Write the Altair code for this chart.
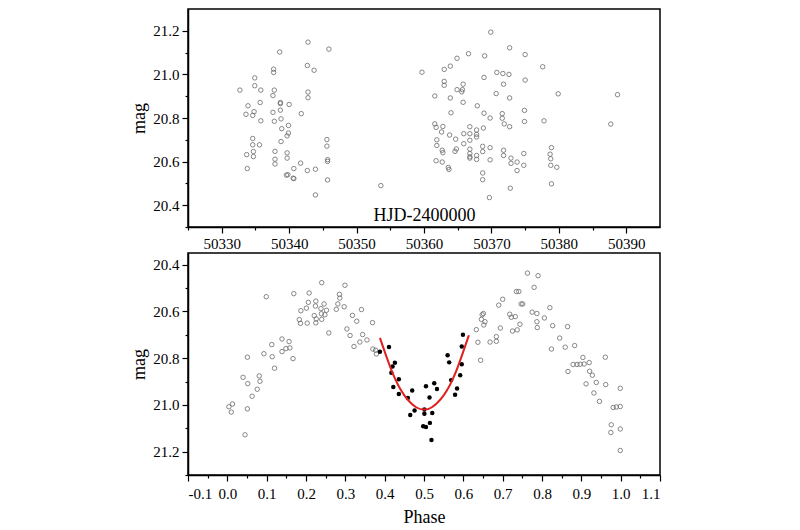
import altair as alt
import pandas as pd

# ---------------- top panel: light curve vs HJD ----------------
top_hjd = [
    50342.8, 50345.9, 50338.6, 50342.7, 50343.7, 50337.7, 50337.7, 50334.9, 50334.9, 50332.7,
    50335.8, 50337.8, 50337.6, 50342.8, 50342.8, 50338.7, 50338.7, 50340.0, 50335.7, 50333.9,
    50333.6, 50334.8, 50334.6, 50337.6, 50338.7, 50341.8, 50335.8, 50337.8, 50338.8, 50339.9,
    50338.9, 50339.9, 50339.7, 50338.8, 50334.6, 50334.6, 50335.6, 50333.7, 50334.7, 50334.7,
    50337.9, 50337.9, 50337.9, 50339.7, 50339.7, 50333.8, 50341.7, 50340.7, 50339.6, 50339.8,
    50340.6, 50340.7, 50342.7, 50343.9, 50345.6, 50345.6, 50345.7, 50345.7, 50345.7, 50343.9,
    50353.6,
    50369.9, 50372.7, 50375.0, 50369.0, 50366.6, 50364.9, 50363.9, 50363.0, 50359.7, 50377.6,
    50368.9, 50370.8, 50371.7, 50372.6, 50375.0, 50363.0, 50363.0, 50365.8, 50364.9, 50365.7,
    50365.6, 50371.8, 50370.7, 50361.6, 50363.9, 50372.7, 50379.9, 50365.8, 50367.9, 50364.0,
    50368.9, 50369.8, 50371.6, 50371.6, 50371.9, 50372.7, 50374.9, 50374.9, 50377.8, 50361.6,
    50361.8, 50362.8, 50362.6, 50363.8, 50364.7, 50361.9, 50361.9, 50365.9, 50365.9, 50366.8,
    50366.8, 50366.8, 50367.8, 50367.8, 50367.8, 50368.8, 50368.7, 50368.7, 50369.8, 50369.8,
    50366.8, 50366.8, 50366.8, 50366.8, 50367.8, 50367.8, 50364.8, 50364.6, 50362.7, 50362.8,
    50361.8, 50362.7, 50363.6, 50363.7, 50371.8, 50371.8, 50372.9, 50372.9, 50373.8, 50373.8,
    50374.8, 50374.8, 50368.7, 50368.7, 50372.8, 50369.7, 50378.9, 50378.7, 50378.8, 50378.8,
    50379.7, 50378.9, 50388.7, 50387.7,
]
top_mag = [
    21.148, 21.116, 21.103, 21.041, 21.019, 21.024, 21.009, 20.984, 20.948, 20.928,
    20.928, 20.928, 20.903, 20.919, 20.893, 20.871, 20.866, 20.862, 20.871, 20.856,
    20.817, 20.829, 20.812, 20.826, 20.836, 20.820, 20.787, 20.785, 20.796, 20.766,
    20.751, 20.731, 20.718, 20.692, 20.706, 20.677, 20.677, 20.632, 20.646, 20.623,
    20.647, 20.611, 20.589, 20.640, 20.616, 20.568, 20.593, 20.568, 20.538, 20.540,
    20.524, 20.522, 20.559, 20.565, 20.701, 20.671, 20.609, 20.601, 20.516, 20.447,
    20.490,
    21.194, 21.122, 21.091, 21.085, 21.095, 21.074, 21.038, 21.023, 21.010, 21.035,
    20.986, 21.009, 21.004, 21.000, 20.974, 20.968, 20.950, 20.955, 20.930, 20.930,
    20.920, 20.955, 20.912, 20.901, 20.892, 20.892, 20.911, 20.872, 20.856, 20.824,
    20.822, 20.800, 20.820, 20.799, 20.773, 20.760, 20.835, 20.784, 20.787, 20.773,
    20.757, 20.761, 20.736, 20.722, 20.703, 20.700, 20.674, 20.728, 20.682, 20.760,
    20.728, 20.698, 20.745, 20.725, 20.713, 20.754, 20.670, 20.646, 20.664, 20.608,
    20.657, 20.637, 20.622, 20.616, 20.628, 20.610, 20.658, 20.647, 20.652, 20.641,
    20.604, 20.598, 20.573, 20.564, 20.652, 20.628, 20.616, 20.592, 20.598, 20.559,
    20.637, 20.583, 20.548, 20.517, 20.478, 20.435, 20.664, 20.634, 20.613, 20.583,
    20.574, 20.498, 20.907, 20.772,
]

# ---------------- bottom panel: phased light curve ----------------
phase_open = [
    0.240, 0.299, 0.099, 0.169, 0.208, 0.285, 0.286, 0.206, 0.225, 0.224,
    0.246, 0.201, 0.187, 0.238, 0.239, 0.252, 0.248, 0.221, 0.226, 0.240,
    0.281, 0.277, 0.297, 0.183, 0.186, 0.203, 0.225, 0.258, 0.318, 0.329,
    0.341, 0.304, 0.312, 0.322, 0.344, 0.337, 0.355, 0.369, 0.370, 0.377,
    0.379, 0.139, 0.157, 0.113, 0.139, 0.149, 0.159, 0.093, 0.114, 0.167,
    0.051, 0.120, 0.040, 0.081, 0.083, 0.052, 0.076, 0.063, 0.013, 0.004,
    0.010, 0.051, 0.045,
    0.763, 0.790, 0.780, 0.735, 0.741, 0.700, 0.690, 0.747, 0.751, 0.820,
    0.651, 0.648, 0.646, 0.655, 0.652, 0.718, 0.722, 0.732, 0.775, 0.787,
    0.806, 0.787, 0.788, 0.744, 0.725, 0.737, 0.694, 0.827, 0.865, 0.633,
    0.637, 0.668, 0.684, 0.684, 0.845, 0.824, 0.859, 0.883, 0.644, 0.904,
    0.961, 0.879, 0.889, 0.897, 0.907, 0.920, 0.866, 0.921, 0.928, 0.912,
    0.938, 0.962, 0.999, 0.932, 0.946, 0.981, 0.989, 0.999, 0.976, 0.975,
    0.999, 0.999,
]
mag_open = [
    20.477, 20.488, 20.537, 20.524, 20.521, 20.527, 20.543, 20.561, 20.556, 20.577,
    20.568, 20.586, 20.597, 20.588, 20.610, 20.595, 20.614, 20.618, 20.632, 20.634,
    20.568, 20.591, 20.580, 20.635, 20.651, 20.650, 20.649, 20.692, 20.617, 20.642,
    20.592, 20.675, 20.703, 20.750, 20.699, 20.731, 20.722, 20.648, 20.761, 20.766,
    20.782, 20.718, 20.729, 20.742, 20.772, 20.759, 20.756, 20.781, 20.794, 20.802,
    20.796, 20.843, 20.882, 20.876, 20.899, 20.909, 20.933, 20.963, 20.996, 21.008,
    21.031, 21.017, 21.128,
    20.436, 20.447, 20.497, 20.515, 20.515, 20.548, 20.573, 20.568, 20.568, 20.584,
    20.609, 20.614, 20.634, 20.644, 20.658, 20.612, 20.625, 20.622, 20.603, 20.609,
    20.628, 20.644, 20.669, 20.655, 20.684, 20.679, 20.671, 20.661, 20.665, 20.678,
    20.732, 20.731, 20.708, 20.728, 20.714, 20.761, 20.753, 20.746, 20.809, 20.797,
    20.796, 20.827, 20.827, 20.826, 20.825, 20.819, 20.857, 20.856, 20.873, 20.910,
    20.904, 20.913, 20.929, 20.949, 20.985, 21.011, 21.009, 21.007, 21.085, 21.118,
    21.103, 21.195,
]
phase_fill = [
    0.388, 0.411, 0.426, 0.420, 0.417, 0.436, 0.422, 0.436, 0.470, 0.459,
    0.476, 0.465, 0.501, 0.501, 0.505, 0.514, 0.526, 0.533, 0.521, 0.515,
    0.498, 0.505, 0.519, 0.560, 0.564, 0.569, 0.584, 0.579, 0.592, 0.596,
    0.596, 0.599,
]
mag_fill = [
    20.773, 20.752, 20.820, 20.836, 20.862, 20.890, 20.923, 20.953, 20.938, 20.970,
    21.024, 21.043, 21.020, 21.038, 20.920, 20.968, 20.907, 20.932, 21.035, 21.077,
    21.091, 21.095, 21.150, 20.788, 20.818, 20.894, 20.930, 20.957, 20.873, 20.826,
    20.750, 20.700,
]
fit_phase = [0.388, 0.42, 0.45, 0.48, 0.50, 0.52, 0.55, 0.58, 0.614]
fit_mag = [20.713, 20.863, 20.959, 21.010, 21.020, 21.010, 20.959, 20.863, 20.702]

# tick positions
top_x_ticks = [50325, 50330, 50335, 50340, 50345, 50350, 50355, 50360,
               50365, 50370, 50375, 50380, 50385, 50390]
top_y_ticks = [20.3, 20.4, 20.5, 20.6, 20.7, 20.8, 20.9, 21.0, 21.1, 21.2]
bot_x_ticks = [-0.1, -0.05, 0.0, 0.05, 0.1, 0.15, 0.2, 0.25, 0.3, 0.35, 0.4, 0.45,
               0.5, 0.55, 0.6, 0.65, 0.7, 0.75, 0.8, 0.85, 0.9, 0.95, 1.0, 1.05, 1.1]
bot_y_ticks = [20.4, 20.5, 20.6, 20.7, 20.8, 20.9, 21.0, 21.1, 21.2, 21.3]

FONT = "Liberation Serif"
OPEN_COLOR = "#6a6a6a"

top_df = pd.DataFrame({"x": top_hjd, "mag": top_mag})
open_df = pd.DataFrame({"x": phase_open, "mag": mag_open})
fill_df = pd.DataFrame({"x": phase_fill, "mag": mag_fill})
fit_df = pd.DataFrame({"x": fit_phase, "mag": fit_mag})


def tick_size(test):
    return {"condition": {"test": test, "value": 6}, "value": 3}


# ---------- top chart ----------
top_major_x = "datum.value % 10 == 0"
top_major_y = "abs(datum.value*5 - round(datum.value*5)) < 1e-6"

top_x = alt.X(
    "x:Q",
    scale=alt.Scale(domain=[50325, 50395], nice=False, zero=False),
    axis=alt.Axis(
        values=top_x_ticks, title="HJD-2400000", titleY=-7,
        titleBaseline="alphabetic", format="d",
        labelExpr=f"{top_major_x} ? datum.label : ''",
        tickSize=tick_size(top_major_x), labelOverlap=False,
    ),
)
top_y = alt.Y(
    "mag:Q",
    scale=alt.Scale(domain=[20.3, 21.3], nice=False, zero=False),
    axis=alt.Axis(
        values=top_y_ticks, title="mag", format=".1f",
        labelExpr=f"{top_major_y} ? datum.label : ''",
        tickSize=tick_size(top_major_y), labelOverlap=False,
    ),
)

top = alt.Chart(top_df).mark_point(
    shape="circle", filled=False, size=20, color=OPEN_COLOR, strokeWidth=0.8, opacity=1
).encode(x=top_x, y=top_y).properties(width=472, height=218)

# ---------- bottom chart ----------
bot_major_x = "abs(datum.value*10 - round(datum.value*10)) < 1e-6"
bot_major_y = "abs(datum.value*5 - round(datum.value*5)) < 1e-6"

bot_x = alt.X(
    "x:Q",
    scale=alt.Scale(domain=[-0.1, 1.1], nice=False, zero=False),
    axis=alt.Axis(
        values=bot_x_ticks, title="Phase", titleY=47, titleBaseline="alphabetic",
        labelExpr=(f"{bot_major_x} ? ((datum.value < -1e-9 ? '-' : '') + "
                   "format(abs(datum.value), '.1f')) : ''"),
        tickSize=tick_size(bot_major_x), labelOverlap=False, labelPadding=5,
    ),
)
bot_y = alt.Y(
    "mag:Q",
    scale=alt.Scale(domain=[20.35, 21.3], nice=False, zero=False, reverse=True),
    axis=alt.Axis(
        values=bot_y_ticks, title="mag", format=".1f",
        labelExpr=f"{bot_major_y} ? datum.label : ''",
        tickSize=tick_size(bot_major_y), labelOverlap=False,
    ),
)

open_layer = alt.Chart(open_df).mark_point(
    shape="circle", filled=False, size=20, color=OPEN_COLOR, strokeWidth=0.8, opacity=1
).encode(x=bot_x, y=bot_y)
fill_layer = alt.Chart(fill_df).mark_circle(size=20, color="black", opacity=1).encode(x=bot_x, y=bot_y)
fit_layer = alt.Chart(fit_df).mark_line(
    color="#e0201f", strokeWidth=2, interpolate="natural"
).encode(x=bot_x, y=bot_y)

bottom = alt.layer(open_layer, fill_layer, fit_layer).properties(width=472, height=222)

chart = alt.vconcat(top, bottom, spacing=0).properties(
    padding={"left": 122, "top": 0, "right": 10, "bottom": 0}
).configure_axis(
    domainColor="black", domainWidth=1.5, tickColor="black", tickWidth=1.2,
    labelFont=FONT, titleFont=FONT, labelFontSize=15, titleFontSize=18,
    labelColor="black", titleColor="black", titleFontWeight="normal",
    grid=False, labelPadding=3, titlePadding=4,
).configure_view(stroke="black", strokeWidth=1.5)

chart.save("out.html", embed_options={"renderer": "svg", "actions": False})
